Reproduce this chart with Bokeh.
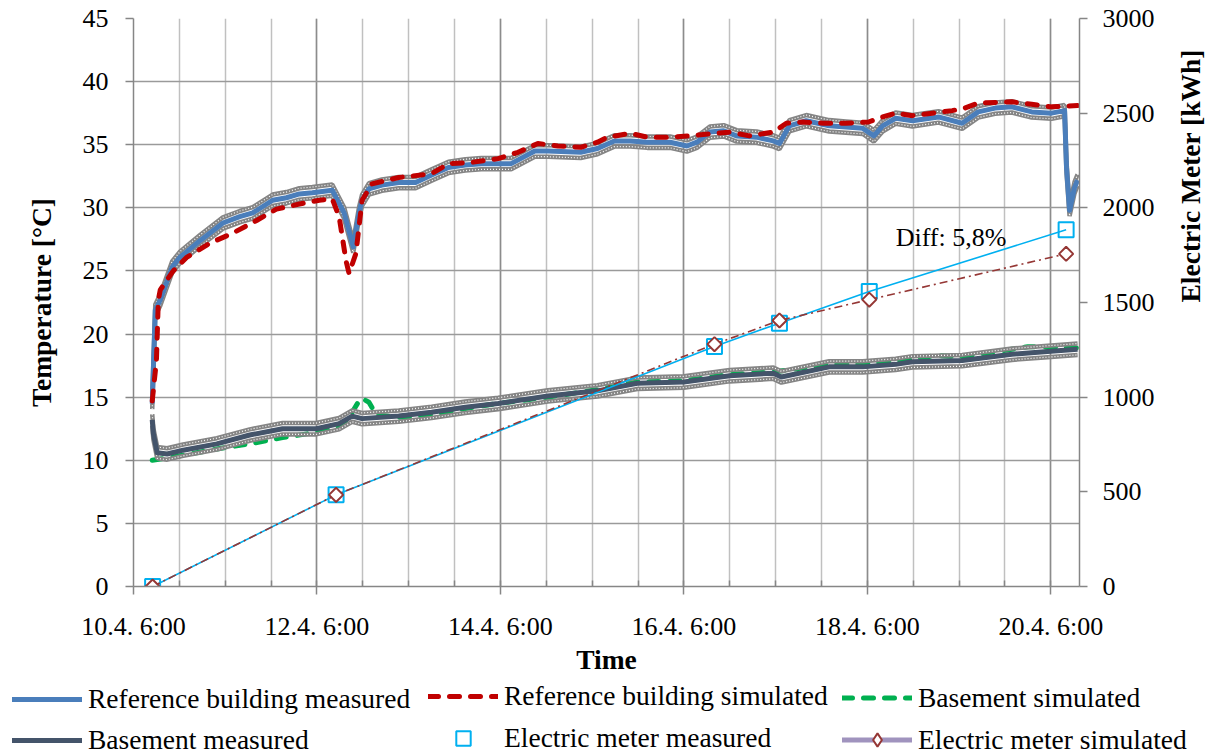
import numpy as np
from bokeh.plotting import figure
from bokeh.models import (Range1d, LinearAxis, FixedTicker, Legend, LegendItem, Label)
from bokeh.embed import file_html
from bokeh.resources import INLINE

FONT = "Liberation Serif"

# ---------------- data (hours after 10.4. 6:00) ----------------
tick_hours = [0, 48, 96, 144, 192, 240]
tick_labels = ["10.4. 6:00", "12.4. 6:00", "14.4. 6:00", "16.4. 6:00", "18.4. 6:00", "20.4. 6:00"]

ref_meas_h = [4.9, 5.7, 7.0, 10.1, 12.2, 17.4, 23.4, 27.8, 31.2, 36.4, 40.0, 43.4, 46.8, 52.0, 55.1,
              57.5, 59.0, 59.8, 61.6, 65.0, 69.4, 73.8, 78.0, 82.4, 86.8, 91.0, 94.6, 98.8, 105.0,
              108.4, 117.0, 121.4, 125.8, 130.0, 134.4, 140.4, 144.8, 147.4, 150.8, 154.4, 157.8,
              163.0, 167.4, 169.0, 171.6, 176.0, 182.0, 186.4, 190.8, 193.7, 196.0, 199.4, 203.8,
              210.6, 216.8, 221.0, 225.4, 229.8, 235.0, 240.2, 243.6, 244.1, 244.9, 246.2, 247.0]
ref_meas_t = [14.5, 21.9, 22.7, 25.3, 26.1, 27.4, 28.8, 29.3, 29.6, 30.6, 30.8, 31.1, 31.2, 31.4, 29.6,
              26.9, 29.6, 30.6, 31.5, 31.8, 32.0, 32.0, 32.6, 33.2, 33.4, 33.5, 33.5, 33.5, 34.5,
              34.5, 34.4, 34.7, 35.3, 35.3, 35.2, 35.2, 34.9, 35.2, 36.0, 36.1, 35.7,
              35.6, 35.3, 35.1, 36.5, 36.9, 36.5, 36.4, 36.3, 35.7, 36.5, 37.1, 36.9,
              37.2, 36.7, 37.6, 37.9, 38.0, 37.6, 37.5, 37.7, 33.2, 29.8, 31.6, 32.2]

ref_sim_h = [4.9, 6.0, 6.5, 7.0, 10.4, 14.0, 20.0, 26.0, 32.2, 37.4, 43.4, 48.6, 52.0, 53.8, 55.6,
             56.4, 58.2, 59.8, 62.4, 69.4, 78.0, 82.4, 88.4, 95.4, 100.6, 105.8, 111.0, 117.0,
             121.4, 124.0, 130.0, 134.4, 140.4, 145.5, 151.8, 156.0, 161.1, 167.4, 170.8, 175.2,
             180.4, 186.4, 192.3, 196.0, 199.4, 203.8, 209.0, 214.2, 217.5, 220.9, 229.8, 235.0,
             240.2, 247.0]
ref_sim_t = [14.7, 17.9, 22.7, 23.5, 25.0, 26.1, 27.2, 28.0, 29.0, 29.9, 30.3, 30.6, 30.7, 29.3, 25.8,
             24.8, 26.4, 30.6, 31.9, 32.4, 32.7, 33.5, 33.6, 33.9, 34.4, 35.1, 34.9, 34.8,
             35.2, 35.6, 35.9, 35.6, 35.6, 35.7, 35.9, 36.0, 35.7, 36.0, 36.7, 36.8,
             36.7, 36.7, 36.8, 37.2, 37.5, 37.3, 37.5, 37.7, 37.9, 38.3, 38.4, 38.2,
             38.0, 38.1]

base_meas_h = [4.9, 5.2, 6.2, 8.8, 13.0, 21.8, 30.4, 39.0, 47.8, 53.8, 57.2, 59.8, 69.4, 78.0, 86.8,
               95.4, 108.4, 121.4, 131.8, 144.0, 156.0, 167.4, 169.5, 182.0, 190.8, 199.4, 203.8,
               216.8, 229.8, 238.3, 247.0]
base_meas_t = [13.2, 12.1, 10.6, 10.5, 10.8, 11.3, 12.0, 12.5, 12.5, 12.9, 13.5, 13.3, 13.5, 13.8, 14.2,
               14.5, 15.1, 15.5, 16.1, 16.2, 16.7, 16.9, 16.6, 17.4, 17.4, 17.6, 17.8,
               17.9, 18.4, 18.6, 18.8]

base_sim_h = [4.9, 13.0, 21.8, 30.4, 39.0, 47.8, 53.8, 56.4, 58.6, 59.8, 61.6, 63.5, 69.4, 78.0, 86.8,
              95.4, 108.4, 121.4, 131.8, 144.0, 156.0, 167.4, 182.0, 190.8, 203.8, 209.8, 216.8,
              229.8, 234.0, 247.0]
base_sim_t = [10.0, 10.4, 10.9, 11.3, 11.8, 12.2, 12.6, 13.4, 14.5, 14.9, 14.6, 13.6, 13.4, 13.6, 14.1,
              14.5, 15.0, 15.6, 16.2, 16.3, 16.8, 17.0, 17.6, 17.6, 18.0, 18.3, 18.2,
              18.8, 19.0, 18.9]

meas_err = 0.45  # +/- error of measured temperatures [degC]

em_h = [5, 53, 152, 169, 192.5, 244]
em_meas = [0, 484, 1268, 1391, 1558, 1884]
em_sim = [0, 484, 1280, 1405, 1515, 1757]

diff_text = "Diff: 5,8%"

# ---------------- styles ----------------
C_REF_M, C_REF_S = "#4a7ebb", "#c00000"
C_BAS_M, C_BAS_S = "#44546a", "#00b050"
C_EM_M, C_EM_S, C_EM_LEG = "#00b0f0", "#953735", "#a093be"
AX = "#868686"

# ---------------- main figure ----------------
p = figure(width=1224, height=680, x_range=Range1d(0, 247.5), y_range=Range1d(0, 45),
           output_backend="svg", toolbar_location=None,
           min_border_left=133, min_border_right=139, min_border_top=18, min_border_bottom=94)
p.outline_line_color = None
p.background_fill_color = "white"
p.extra_y_ranges = {"em": Range1d(0, 3000)}

xa = p.xaxis[0]
xa.ticker = FixedTicker(ticks=tick_hours, minor_ticks=list(range(12, 248, 12)))
xa.major_label_overrides = {h: l for h, l in zip(tick_hours, tick_labels)}
xa.axis_label = "Time"
ya = p.yaxis[0]
ya.ticker = FixedTicker(ticks=list(range(0, 46, 5)))
ya.axis_label = "Temperature [°C]"
ra = LinearAxis(y_range_name="em", ticker=FixedTicker(ticks=list(range(0, 3001, 500))))
ra.axis_label = "Electric Meter [kWh]"
if hasattr(ra, "axis_label_orientation"):
    ra.axis_label_orientation = np.pi / 2
p.add_layout(ra, "right")

for ax in (xa, ya, ra):
    ax.axis_line_color = AX
    ax.axis_line_width = 1.5
    ax.major_tick_line_color = AX
    ax.major_tick_line_width = 1.5
    ax.major_tick_out = 8
    ax.major_tick_in = 0
    ax.major_label_text_font = FONT
    ax.major_label_text_font_size = "26px"
    ax.major_label_text_color = "black"
    ax.axis_label_text_font = FONT
    ax.axis_label_text_font_style = "bold"
    ax.axis_label_text_font_size = "27.5px"
    ax.axis_label_text_color = "black"
xa.minor_tick_line_color = AX
xa.minor_tick_line_width = 1.5
xa.minor_tick_in = 6
xa.minor_tick_out = 0
ya.minor_tick_line_color = None
ra.minor_tick_line_color = None
xa.major_label_standoff = 17
xa.axis_label_standoff = 0
ya.major_label_standoff = 17
ya.axis_label_standoff = 23
ra.major_label_standoff = 15
ra.axis_label_standoff = 33

p.xgrid.grid_line_color = "#8c8c8c"
p.xgrid.grid_line_width = 1.5
p.xgrid.minor_grid_line_color = "#c0c0c0"
p.xgrid.minor_grid_line_width = 1.5
p.ygrid.grid_line_color = "#9a9a9a"
p.ygrid.grid_line_width = 1.5


def err_bands(h, t, col="#858585"):
    t = np.asarray(t)
    for sign in (1, -1):
        p.line(h, t + sign * meas_err, line_color=col, line_width=4.5)
        p.line(h, t + sign * meas_err, line_color="white", line_width=1.2, line_dash="1 2")


err_bands(ref_meas_h, ref_meas_t)
p.line(ref_meas_h, ref_meas_t, line_color=C_REF_M, line_width=5, line_join="round")
p.line(ref_sim_h, ref_sim_t, line_color=C_REF_S, line_width=5, line_dash="10 11",
       line_cap="round", line_join="round")
p.line(base_sim_h, base_sim_t, line_color=C_BAS_S, line_width=5, line_dash="10 11",
       line_cap="round", line_join="round")
err_bands(base_meas_h, base_meas_t)
p.line(base_meas_h, base_meas_t, line_color=C_BAS_M, line_width=5, line_join="round")

p.line(em_h, em_meas, y_range_name="em", line_color=C_EM_M, line_width=1.6)
p.scatter(em_h, em_meas, y_range_name="em", marker="square", size=15,
          line_color=C_EM_M, line_width=2, fill_color=None)
p.line(em_h, em_sim, y_range_name="em", line_color=C_EM_S, line_width=1.6, line_dash="8 4 2 4")
p.scatter(em_h, em_sim, y_range_name="em", marker="square", angle=np.pi / 4, size=10,
          line_color=C_EM_S, line_width=2, fill_color="white")

p.add_layout(Label(x=199.4, y=27.65, text=diff_text, text_align="left", text_baseline="middle",
                   text_font=FONT, text_font_size="26px", text_color="black"))

# ---------------- legend strip (separate root below) ----------------
q = figure(width=1224, height=75, x_range=Range1d(0, 1), y_range=Range1d(0, 1),
           output_backend="svg", toolbar_location=None, x_axis_type=None, y_axis_type=None,
           min_border_left=0, min_border_right=0, min_border_top=0, min_border_bottom=0)
q.outline_line_color = None
q.xgrid.visible = False
q.ygrid.visible = False

e = dict(x=[np.nan], y=[np.nan])   # legend-only renderers, nothing drawn in the strip
l_ref_m = q.line(line_color=C_REF_M, line_width=5, line_cap="round", **e)
l_ref_s = q.line(line_color=C_REF_S, line_width=5, line_dash="10 11", line_cap="round", **e)
l_bas_s = q.line(line_color=C_BAS_S, line_width=5, line_dash="10 11", line_cap="round", **e)
l_bas_m = q.line(line_color=C_BAS_M, line_width=5, line_cap="round", **e)
l_em_m = q.scatter(marker="square", size=15, line_color=C_EM_M, line_width=2, fill_color=None, **e)
l_em_line = q.line(line_color=C_EM_LEG, line_width=5, line_cap="round", **e)
l_em_s = q.scatter(marker="diamond", size=13, line_color=C_EM_S, line_width=2,
                   fill_color="white", **e)

columns_ = [
    ([("Reference building measured", [l_ref_m]), ("Basement measured", [l_bas_m])], 12, 26, 9),
    ([("Reference building simulated", [l_ref_s]), ("Electric meter measured", [l_em_m])], 428, 36, 6),
    ([("Basement simulated", [l_bas_s]), ("Electric meter simulated", [l_em_line, l_em_s])], 842, 33, 9),
]
for entries, vx, gh, sp in columns_:
    lg = Legend(items=[LegendItem(label=t, renderers=r) for t, r in entries],
                location=(vx, -1), orientation="vertical",
                glyph_width=70, glyph_height=gh, label_standoff=6, spacing=sp,
                padding=0, margin=0, border_line_color=None, background_fill_alpha=0,
                label_text_font=FONT, label_text_font_size="27.5px", label_text_color="black")
    q.add_layout(lg, "center")

open("out.html", "w").write(file_html([p, q], INLINE))
